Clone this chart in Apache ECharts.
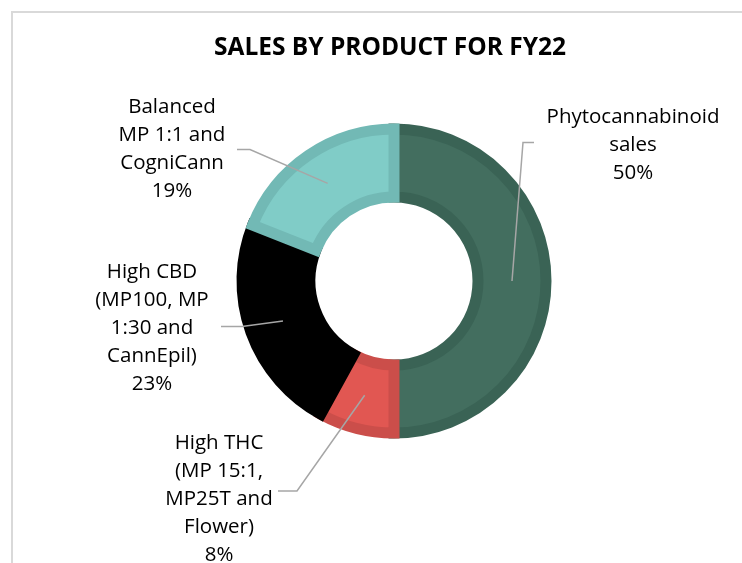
<!DOCTYPE html>
<html>
<head>
<meta charset="utf-8">
<script src="https://cdn.jsdelivr.net/npm/echarts@6/dist/echarts.min.js"></script>
<style>
  html, body { margin: 0; padding: 0; background: #fff; }
  #chart { width: 742px; height: 563px; }
</style>
</head>
<body>
<div id="chart"></div>
<script>
// data
const products = [
  "Phytocannabinoid\nsales",
  "High THC\n(MP 15:1,\nMP25T and\nFlower)",
  "High CBD\n(MP100, MP\n1:30 and\nCannEpil)",
  "Balanced\nMP 1:1 and\nCogniCann"
];
const shares = [50, 8, 23, 19];

// look
const fillColors = ["#436e5f", "#e15752", "#000000", "#80ccc7"];
const edgeColors = ["#3a6355", "#cb4e4a", "#000000", "#72b9b5"];

// layout
const center = [394, 281];
const ring = [84, 152];
const lineStartR = 118;
// label centre and the two elbow points of each leader line
const labelAt = [[633, 145], [219, 499], [152, 328], [172, 149]];
const elbowAt = [[523, 142.5], [297, 491], [242, 326.5], [250, 149.5]];
const tailAt = [[534, 142.5], [278, 491], [221, 326.5], [237, 149.5]];

const total = shares.reduce((a, b) => a + b, 0);
const startOf = [];
shares.reduce((acc, v, i) => { startOf[i] = acc; return acc + v; }, 0);

const chart = echarts.init(document.getElementById("chart"));

const pieBase = {
  type: "pie",
  center: center,
  radius: ring,
  startAngle: 90,
  clockwise: true,
  avoidLabelOverlap: false,
  percentPrecision: 0,
  emphasis: { disabled: true }
};

chart.setOption({
  backgroundColor: "#ffffff",
  animation: false,
  title: {
    text: "SALES BY PRODUCT FOR FY22",
    left: 385,
    top: 31,
    textAlign: "center",
    textStyle: {
      fontFamily: "Open Sans",
      fontWeight: "bold",
      fontSize: 24.5,
      color: "#000000"
    }
  },
  graphic: [{
    type: "rect",
    silent: true,
    shape: { x: 12, y: 12, width: 800, height: 600 },
    style: { fill: null, stroke: "#d9d9d9", lineWidth: 2 }
  }],
  series: [
    // the ring itself
    Object.assign({}, pieBase, {
      z: 2,
      data: products.map((name, i) => ({
        name: name,
        value: shares[i],
        itemStyle: {
          color: fillColors[i],
          borderColor: edgeColors[i],
          borderWidth: 11,
          borderJoin: "miter"
        }
      })),
      label: { show: false },
      labelLine: { show: false }
    }),
    // same slices, invisible, only to carry labels and leader lines above the ring
    Object.assign({}, pieBase, {
      z: 3,
      silent: true,
      data: products.map((name, i) => ({ name: name, value: shares[i] })),
      itemStyle: { color: "rgba(0,0,0,0)", borderWidth: 0 },
      label: {
        show: true,
        position: "outside",
        formatter: "{b}\n{d}%",
        fontFamily: "Open Sans",
        fontSize: 20.5,
        lineHeight: 28,
        color: "#000000"
      },
      labelLine: {
        show: true,
        length: 10,
        length2: 10,
        lineStyle: { color: "#a6a6a6", width: 1.5 }
      },
      labelLayout: function (p) {
        const i = p.dataIndex;
        const frac = (startOf[i] + shares[i] / 2) / total;
        const a = frac * Math.PI * 2;
        const sx = center[0] + lineStartR * Math.sin(a);
        const sy = center[1] - lineStartR * Math.cos(a);
        return {
          x: labelAt[i][0],
          y: labelAt[i][1],
          align: "center",
          verticalAlign: "middle",
          labelLinePoints: [[sx, sy], elbowAt[i], tailAt[i]]
        };
      }
    })
  ]
});
</script>
</body>
</html>
